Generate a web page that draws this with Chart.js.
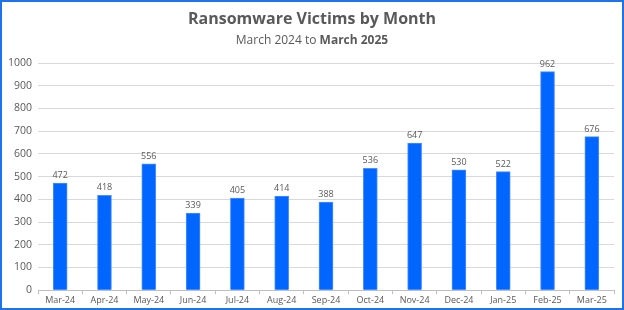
<!DOCTYPE html>
<html>
<head>
<meta charset="utf-8">
<script src="https://cdn.jsdelivr.net/npm/chart.js@4"></script>
<style>
  html, body { margin: 0; padding: 0; background: #fff; }
  #wrap {
    width: 624px; height: 310px; box-sizing: border-box;
    border: 2px solid #1e73e8; position: relative;
  }
  #chart { display: block; }
</style>
</head>
<body>
<div id="wrap"><canvas id="chart" width="620" height="306"></canvas></div>
<script>
// Data
const months = ['Mar-24', 'Apr-24', 'May-24', 'Jun-24', 'Jul-24', 'Aug-24', 'Sep-24',
                'Oct-24', 'Nov-24', 'Dec-24', 'Jan-25', 'Feb-25', 'Mar-25'];
const victims = [472, 418, 556, 339, 405, 414, 388, 536, 647, 530, 522, 962, 676];

const FONT = "'Open Sans', 'Liberation Sans', sans-serif";
const GREY = '#595959';

// Title + mixed-weight subtitle
const headerPlugin = {
    id: 'header',
    afterDraw(chart) {
        const ctx = chart.ctx;
        const cx = chart.width / 2;
        ctx.save();
        ctx.fillStyle = GREY;
        ctx.textBaseline = 'middle';
        ctx.textAlign = 'center';
        ctx.font = 'bold 16px ' + FONT;
        ctx.fillText('Ransomware Victims by Month', cx, 17);

        const a = 'March 2024 to ';
        const b = 'March 2025';
        ctx.font = '12px ' + FONT;
        const wa = ctx.measureText(a).width;
        ctx.font = 'bold 12px ' + FONT;
        const wb = ctx.measureText(b).width;
        let x = cx - (wa + wb) / 2;
        ctx.textAlign = 'left';
        ctx.font = '12px ' + FONT;
        ctx.fillText(a, x, 39);
        ctx.font = 'bold 12px ' + FONT;
        ctx.fillText(b, x + wa, 39);
        ctx.restore();
    }
};

// Value labels above the bars
const valueLabels = {
    id: 'valueLabels',
    afterDatasetsDraw(chart) {
        const ctx = chart.ctx;
        const meta = chart.getDatasetMeta(0);
        ctx.save();
        ctx.fillStyle = GREY;
        ctx.font = '9px ' + FONT;
        ctx.textAlign = 'center';
        ctx.textBaseline = 'bottom';
        meta.data.forEach((bar, i) => {
            ctx.fillText(victims[i], bar.x, bar.y - 3);
        });
        ctx.restore();
    }
};

new Chart(document.getElementById('chart'), {
    type: 'bar',
    data: {
        labels: months,
        datasets: [{
            data: victims,
            backgroundColor: '#0066ff',
            borderColor: '#4d8fff',
            borderWidth: 1,
            barThickness: 14
        }]
    },
    options: {
        responsive: false,
        animation: false,
        layout: { padding: { top: 61, left: 0, right: 8, bottom: 1 } },
        plugins: {
            legend: { display: false },
            tooltip: { enabled: false }
        },
        scales: {
            x: {
                grid: { display: true, drawOnChartArea: false, offset: true, tickLength: 4, color: '#bfbfbf' },
                border: { color: '#bfbfbf' },
                ticks: { color: GREY, font: { family: FONT, size: 9 }, maxRotation: 0, padding: 1 }
            },
            y: {
                min: 0, max: 1000,
                ticks: { stepSize: 100, color: GREY, font: { family: FONT, size: 10.5 }, padding: 6,
                         callback: v => String(v) },
                grid: { color: '#d9d9d9', tickLength: 0 },
                border: { display: false }
            }
        }
    },
    plugins: [headerPlugin, valueLabels]
});
</script>
</body>
</html>
